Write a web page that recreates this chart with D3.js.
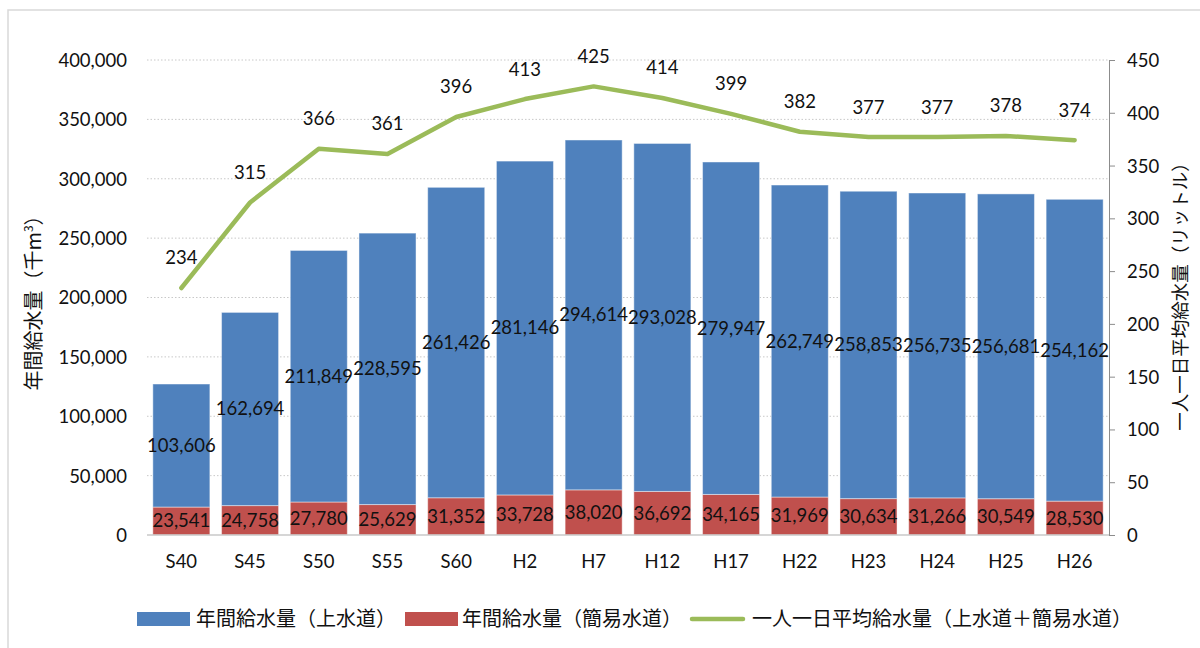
<!DOCTYPE html>
<html><head><meta charset="utf-8">
<script src="https://cdn.jsdelivr.net/npm/d3@7"></script>
<style>
body{margin:0;background:#fff;}
svg{display:block;}
.num{font-family:Lato,"Open Sans",sans-serif;font-size:18.5px;fill:#111;}
.jp{font-family:"Noto Sans CJK JP",sans-serif;fill:#111;}
</style></head>
<body>
<svg id="c" width="1200" height="648"></svg>
<script>
const categories = ["S40","S45","S50","S55","S60","H2","H7","H12","H17","H22","H23","H24","H25","H26"];
const josuido = [103606,162694,211849,228595,261426,281146,294614,293028,279947,262749,258853,256735,256681,254162];
const kanisuido = [23541,24758,27780,25629,31352,33728,38020,36692,34165,31969,30634,31266,30549,28530];
const perCapita = [234,315,366,361,396,413,425,414,399,382,377,377,378,374];
const leftTicks = [0,50000,100000,150000,200000,250000,300000,350000,400000];
const rightTicks = [0,50,100,150,200,250,300,350,400,450];
const seriesNames = ["年間給水量（上水道）","年間給水量（簡易水道）","一人一日平均給水量（上水道＋簡易水道）"];
const colors = ["#4f81bd","#c0504d","#9bbb59"];

const svg = d3.select("#c");
const L=147, R=1109, T=60, B=535;

// chart border
svg.append("rect").attr("x",8).attr("y",10).attr("width",1200).attr("height",660)
  .attr("fill","#fff").attr("stroke","#d9d9d9").attr("stroke-width",1.5);

const x = d3.scaleBand().domain(categories).range([L,R]).paddingInner(0.17).paddingOuter(0.085);
const yL = d3.scaleLinear().domain([0,400000]).range([B,T]);
const yR = d3.scaleLinear().domain([0,450]).range([B,T]);

// gridlines
svg.append("g").selectAll("line").data(leftTicks.filter(d=>d>0)).join("line")
  .attr("x1",L).attr("x2",R).attr("y1",d=>yL(d)).attr("y2",d=>yL(d))
  .attr("stroke","#c8c8c8").attr("stroke-width",1).attr("stroke-dasharray","1.5,2");

// left axis
const fmt = d3.format(",");
const gl = svg.append("g").attr("transform",`translate(${L},0)`)
  .call(d3.axisLeft(yL).tickValues(leftTicks).tickFormat(fmt).tickSize(0).tickPadding(20));
gl.select(".domain").remove();
gl.selectAll("text").attr("class","num").attr("dy","0.35em");

// right axis
const gr = svg.append("g").attr("transform",`translate(${R},0)`)
  .call(d3.axisRight(yR).tickValues(rightTicks).tickSize(6).tickSizeOuter(6).tickPadding(12));
gr.select(".domain").attr("stroke","#8c8c8c");
gr.selectAll(".tick line").attr("stroke","#8c8c8c");
gr.selectAll("text").attr("class","num").attr("dy","0.35em");

// bars
const stacked = categories.map((c,i)=>({c, k:kanisuido[i], j:josuido[i]}));
const gb = svg.append("g");
gb.selectAll("rect.k").data(stacked).join("rect").attr("class","k")
  .attr("x",d=>x(d.c)).attr("width",x.bandwidth())
  .attr("y",d=>yL(d.k)).attr("height",d=>yL(0)-yL(d.k))
  .attr("fill",colors[1]).attr("stroke","rgba(255,255,255,0.45)").attr("stroke-width",1);
gb.selectAll("rect.j").data(stacked).join("rect").attr("class","j")
  .attr("x",d=>x(d.c)).attr("width",x.bandwidth())
  .attr("y",d=>yL(d.k+d.j)).attr("height",d=>yL(d.k)-yL(d.k+d.j))
  .attr("fill",colors[0]).attr("stroke","rgba(255,255,255,0.45)").attr("stroke-width",1);

// baseline
svg.append("line").attr("x1",L).attr("x2",R).attr("y1",B).attr("y2",B)
  .attr("stroke","#c8c8c8").attr("stroke-width",1.5);

// bar labels
gb.selectAll("text.k").data(stacked).join("text").attr("class","num")
  .attr("x",d=>x(d.c)+x.bandwidth()/2).attr("y",d=>yL(d.k/2)).attr("dy","0.35em")
  .attr("text-anchor","middle").text(d=>fmt(d.k));
gb.selectAll("text.j").data(stacked).join("text").attr("class","num")
  .attr("x",d=>x(d.c)+x.bandwidth()/2).attr("y",d=>yL(d.k+d.j/2)).attr("dy","0.35em")
  .attr("text-anchor","middle").text(d=>fmt(d.j));

// line
const lineData = categories.map((c,i)=>({c,v:perCapita[i]}));
svg.append("path").datum(lineData)
  .attr("d",d3.line().x(d=>x(d.c)+x.bandwidth()/2).y(d=>yR(d.v)))
  .attr("fill","none").attr("stroke",colors[2]).attr("stroke-width",4.5)
  .attr("stroke-linejoin","round").attr("stroke-linecap","round");
svg.append("g").selectAll("text").data(lineData).join("text").attr("class","num")
  .attr("x",d=>x(d.c)+x.bandwidth()/2).attr("y",d=>yR(d.v)-30).attr("dy","0.35em")
  .attr("text-anchor","middle").text(d=>d.v);

// x axis labels
svg.append("g").selectAll("text").data(categories).join("text").attr("class","num")
  .attr("x",d=>x(d)+x.bandwidth()/2).attr("y",562).attr("dy","0.35em")
  .attr("text-anchor","middle").text(d=>d);

// axis titles
const lt = svg.append("text").attr("class","jp").attr("font-size",20)
  .attr("transform","translate(41,298) rotate(-90)").attr("text-anchor","middle");
lt.append("tspan").text("年間給水量（千m");
lt.append("tspan").attr("font-size",12).attr("dy",-8).text("3");
lt.append("tspan").attr("dy",8).text("）");
svg.append("text").attr("class","jp").attr("font-size",18.5)
  .attr("transform","translate(1187,292) rotate(-90)").attr("text-anchor","middle")
  .text("一人一日平均給水量（リットル）");

// legend
const lg = svg.append("g");
const items = [
  {sx:137, tx:196, type:"rect"},
  {sx:405, tx:462, type:"rect"},
  {sx:690, tx:752, type:"line"}
];
items.forEach((it,i)=>{
  if(it.type==="rect"){
    lg.append("rect").attr("x",it.sx).attr("y",612).attr("width",53).attr("height",14).attr("fill",colors[i]);
  } else {
    lg.append("line").attr("x1",it.sx+2).attr("x2",it.sx+53).attr("y1",619).attr("y2",619)
      .attr("stroke",colors[i]).attr("stroke-width",4.5).attr("stroke-linecap","round");
  }
  lg.append("text").attr("class","jp").attr("font-size",20).attr("x",it.tx).attr("y",619)
    .attr("dy","0.35em").text(seriesNames[i]);
});
</script>
</body></html>
